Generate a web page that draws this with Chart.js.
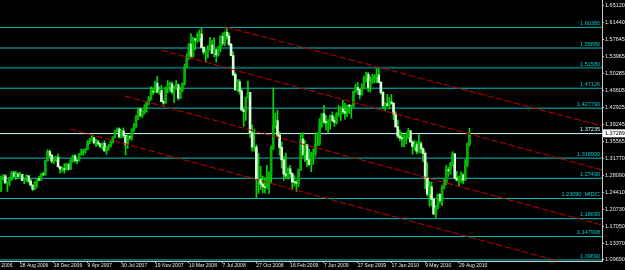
<!DOCTYPE html>
<html>
<head>
<meta charset="utf-8">
<script src="https://cdn.jsdelivr.net/npm/chart.js@4.4.0/dist/chart.umd.min.js"></script>
<style>
html, body { margin: 0; padding: 0; background: #000; }
</style>
</head>
<body>
<canvas id="myChart" width="625" height="270"></canvas>
<script>
// weekly EUR/USD candles, week 0 = end of June 2006
var opens = [1.2500,1.2780,1.2800,1.2650,1.2670,1.2760,1.2860,1.2790,1.2840,1.2790,1.2830,1.2700,1.2700,1.2800,1.2690,1.2600,1.2510,1.2670,1.2740,1.2710,1.2840,1.2830,1.3130,1.3330,1.3250,1.3120,1.3160,1.3200,1.3000,1.2950,1.2960,1.2940,1.3050,1.2950,1.3140,1.3230,1.3140,1.3130,1.3280,1.3290,1.3340,1.3380,1.3540,1.3580,1.3630,1.3520,1.3540,1.3500,1.3450,1.3510,1.3350,1.3430,1.3470,1.3540,1.3640,1.3780,1.3820,1.3650,1.3780,1.3680,1.3480,1.3660,1.3640,1.3810,1.3880,1.4080,1.4260,1.4120,1.4200,1.4300,1.4420,1.4500,1.4640,1.4630,1.4820,1.4630,1.4660,1.4420,1.4390,1.4720,1.4750,1.4800,1.4630,1.4710,1.4780,1.4500,1.4680,1.4820,1.5180,1.5380,1.5670,1.5410,1.5790,1.5760,1.5810,1.5890,1.5600,1.5500,1.5500,1.5560,1.5650,1.5470,1.5550,1.5440,1.5610,1.5840,1.5690,1.5930,1.5850,1.5670,1.5420,1.5010,1.4680,1.4850,1.4650,1.4240,1.4200,1.4510,1.4620,1.3740,1.3430,1.3430,1.2720,1.2720,1.2620,1.2570,1.2550,1.2690,1.2820,1.3400,1.3900,1.4000,1.3690,1.3420,1.3150,1.2840,1.2800,1.2950,1.2850,1.2670,1.2660,1.2640,1.2930,1.3600,1.3270,1.3480,1.3150,1.3050,1.3250,1.3290,1.3490,1.3520,1.3980,1.4150,1.3980,1.3960,1.3980,1.4110,1.4010,1.3970,1.4160,1.4160,1.4260,1.4200,1.4170,1.4340,1.4320,1.4320,1.4640,1.4720,1.4680,1.4570,1.4720,1.4930,1.5010,1.4730,1.4860,1.4900,1.4960,1.5000,1.4840,1.4620,1.4330,1.4370,1.4330,1.4410,1.4380,1.4150,1.3870,1.3670,1.3630,1.3610,1.3630,1.3630,1.3780,1.3540,1.3440,1.3480,1.3340,1.3500,1.3390,1.3290,1.2750,1.2400,1.2560,1.2290,1.1970,1.2100,1.2400,1.2260,1.2550,1.2640,1.2940,1.2910,1.3050,1.3280,1.2750,1.2710,1.2750,1.2820,1.2710,1.3050,1.3490];
var highs = [1.2790,1.2830,1.2830,1.2680,1.2770,1.2900,1.2900,1.2900,1.2870,1.2880,1.2840,1.2750,1.2830,1.2810,1.2740,1.2600,1.2680,1.2750,1.2800,1.2850,1.2880,1.3140,1.3370,1.3370,1.3280,1.3220,1.3230,1.3280,1.3000,1.2990,1.3070,1.3080,1.3070,1.3180,1.3250,1.3270,1.3190,1.3290,1.3390,1.3380,1.3400,1.3570,1.3620,1.3680,1.3650,1.3600,1.3580,1.3510,1.3520,1.3570,1.3450,1.3490,1.3580,1.3660,1.3800,1.3850,1.3850,1.3800,1.3850,1.3690,1.3700,1.3680,1.3830,1.3950,1.4120,1.4280,1.4280,1.4230,1.4350,1.4430,1.4530,1.4750,1.4720,1.4870,1.4970,1.4750,1.4780,1.4460,1.4740,1.4880,1.4840,1.4850,1.4760,1.4880,1.4810,1.4730,1.4830,1.5240,1.5460,1.5690,1.5900,1.5830,1.5800,1.5920,1.5980,1.6020,1.5620,1.5560,1.5640,1.5820,1.5760,1.5810,1.5550,1.5620,1.5860,1.5920,1.5940,1.6040,1.5920,1.5690,1.5510,1.5050,1.4900,1.4900,1.4710,1.4310,1.4520,1.4870,1.4620,1.3910,1.3820,1.3480,1.3290,1.3010,1.2800,1.2760,1.3030,1.2890,1.3450,1.4720,1.4170,1.4240,1.3760,1.3540,1.3230,1.3300,1.2980,1.3030,1.2870,1.2810,1.2710,1.2950,1.3740,1.3740,1.3580,1.3480,1.3380,1.3320,1.3390,1.3740,1.3740,1.4050,1.4160,1.4340,1.4120,1.4030,1.4130,1.4200,1.4090,1.4180,1.4340,1.4310,1.4450,1.4390,1.4340,1.4360,1.4340,1.4650,1.4800,1.4840,1.4700,1.4810,1.4970,1.5060,1.5060,1.4970,1.5020,1.5010,1.5140,1.5140,1.4860,1.4640,1.4400,1.4580,1.4510,1.4580,1.4400,1.4200,1.4020,1.3800,1.3750,1.3700,1.3740,1.3840,1.3790,1.3570,1.3570,1.3550,1.3700,1.3550,1.3420,1.3330,1.3090,1.2680,1.2670,1.2320,1.2160,1.2400,1.2410,1.2590,1.2720,1.3030,1.2990,1.3100,1.3330,1.3280,1.2900,1.2800,1.2890,1.2850,1.3160,1.3520,1.3840];
var lows = [1.2460,1.2700,1.2630,1.2460,1.2580,1.2700,1.2770,1.2720,1.2740,1.2780,1.2690,1.2630,1.2680,1.2650,1.2580,1.2480,1.2500,1.2550,1.2690,1.2700,1.2800,1.2810,1.3120,1.3190,1.3080,1.3070,1.3120,1.2990,1.2860,1.2890,1.2860,1.2920,1.2930,1.2940,1.3100,1.3100,1.3060,1.3120,1.3250,1.3250,1.3300,1.3370,1.3500,1.3570,1.3500,1.3440,1.3460,1.3410,1.3380,1.3330,1.3270,1.3360,1.3430,1.3520,1.3630,1.3760,1.3630,1.3630,1.3630,1.3260,1.3400,1.3590,1.3580,1.3770,1.3860,1.4030,1.4090,1.4070,1.4150,1.4190,1.4350,1.4450,1.4570,1.4620,1.4610,1.4580,1.4420,1.4350,1.4380,1.4610,1.4650,1.4590,1.4400,1.4680,1.4450,1.4480,1.4640,1.4780,1.5160,1.5340,1.5370,1.5390,1.5550,1.5710,1.5730,1.5600,1.5450,1.5290,1.5380,1.5540,1.5480,1.5400,1.5280,1.5410,1.5510,1.5640,1.5640,1.5780,1.5640,1.5420,1.4980,1.4660,1.4650,1.4580,1.4220,1.3880,1.4010,1.4510,1.3640,1.3340,1.3340,1.2330,1.2420,1.2500,1.2430,1.2430,1.2520,1.2420,1.2660,1.3370,1.3840,1.3650,1.3250,1.2970,1.2700,1.2760,1.2730,1.2770,1.2510,1.2580,1.2460,1.2560,1.2920,1.3230,1.3110,1.3000,1.3030,1.2890,1.3050,1.3230,1.3460,1.3470,1.3860,1.3930,1.3800,1.3750,1.3820,1.3980,1.3880,1.3930,1.4100,1.4010,1.4150,1.4040,1.4100,1.4160,1.4060,1.4280,1.4620,1.4580,1.4480,1.4560,1.4700,1.4850,1.4640,1.4630,1.4820,1.4830,1.4830,1.4830,1.4580,1.4260,1.4220,1.4320,1.4260,1.4360,1.4030,1.3860,1.3630,1.3570,1.3440,1.3440,1.3500,1.3610,1.3530,1.3270,1.3360,1.3280,1.3300,1.3300,1.3110,1.2520,1.2360,1.2140,1.2150,1.1960,1.1880,1.2080,1.2200,1.2150,1.2510,1.2610,1.2790,1.2840,1.3020,1.2730,1.2690,1.2590,1.2660,1.2630,1.2700,1.3000,1.3450];
var closes = [1.2780,1.2800,1.2650,1.2670,1.2760,1.2860,1.2790,1.2840,1.2790,1.2830,1.2700,1.2700,1.2800,1.2690,1.2600,1.2510,1.2670,1.2740,1.2710,1.2840,1.2830,1.3130,1.3330,1.3250,1.3120,1.3160,1.3200,1.3000,1.2950,1.2960,1.2940,1.3050,1.2950,1.3140,1.3230,1.3140,1.3130,1.3280,1.3290,1.3340,1.3380,1.3540,1.3580,1.3630,1.3520,1.3540,1.3500,1.3450,1.3510,1.3350,1.3430,1.3470,1.3540,1.3640,1.3780,1.3820,1.3650,1.3780,1.3680,1.3480,1.3660,1.3640,1.3810,1.3880,1.4080,1.4260,1.4120,1.4200,1.4300,1.4420,1.4500,1.4640,1.4630,1.4820,1.4630,1.4660,1.4420,1.4390,1.4720,1.4750,1.4800,1.4630,1.4710,1.4780,1.4500,1.4680,1.4820,1.5180,1.5380,1.5670,1.5410,1.5790,1.5760,1.5810,1.5890,1.5600,1.5500,1.5500,1.5560,1.5650,1.5470,1.5550,1.5440,1.5610,1.5840,1.5690,1.5930,1.5850,1.5670,1.5420,1.5010,1.4680,1.4850,1.4650,1.4240,1.4200,1.4510,1.4620,1.3740,1.3430,1.3430,1.2720,1.2720,1.2620,1.2570,1.2550,1.2690,1.2820,1.3400,1.3900,1.4000,1.3690,1.3420,1.3150,1.2840,1.2800,1.2950,1.2850,1.2670,1.2660,1.2640,1.2930,1.3600,1.3270,1.3480,1.3150,1.3050,1.3250,1.3290,1.3490,1.3520,1.3980,1.4150,1.3980,1.3960,1.3980,1.4110,1.4010,1.3970,1.4160,1.4160,1.4260,1.4200,1.4170,1.4340,1.4320,1.4320,1.4640,1.4720,1.4680,1.4570,1.4720,1.4930,1.5010,1.4730,1.4860,1.4900,1.4960,1.5000,1.4840,1.4620,1.4330,1.4370,1.4330,1.4410,1.4380,1.4150,1.3870,1.3670,1.3630,1.3610,1.3630,1.3630,1.3780,1.3540,1.3440,1.3480,1.3340,1.3500,1.3390,1.3290,1.2750,1.2400,1.2560,1.2290,1.1970,1.2100,1.2400,1.2260,1.2550,1.2640,1.2940,1.2910,1.3050,1.3280,1.2750,1.2710,1.2750,1.2820,1.2710,1.3050,1.3490,1.37289];

// horizontal levels and their labels
var levelValues = [1.60380, 1.55880, 1.51580, 1.47126, 1.427790, 1.37235, 1.318900, 1.27490, 1.23090, 1.18690, 1.147908, 1.09690];
var levelText = ['1.60380', '1.55880', '1.51580', '1.47126', '1.427790', '1.37235', '1.318900', '1.27490', '1.23090  MID/C', '1.18690', '1.147908', '1.09690'];
var levelColors = ['#00b4b4', '#006464', '#006464', '#00c0c0', '#00c0c0', '#c8ffff', '#00c0c0', '#00c0c0', '#00c0c0', '#00c0c0', '#00c0c0', '#00c0c0'];

// channel lines: [startWeek, startPrice, endWeek, endPrice]
var channels = [
    [106.6, 1.6047, 284.8, 1.3890],
    [75.8, 1.5546, 284.8, 1.2930],
    [58.7, 1.4543, 284.8, 1.1730],
    [32.7, 1.3824, 284.8, 1.0685]
];

var xTickIdx = [-7, 9, 25, 41, 57, 73, 89, 105, 121, 137, 153, 169, 185, 201, 217];
var xTickText = ['8 May 2006', '28 Aug 2006', '18 Dec 2006', '9 Apr 2007', '30 Jul 2007', '19 Nov 2007', '10 Mar 2008', '7 Jul 2008', '27 Oct 2008', '16 Feb 2009', '7 Jun 2009', '27 Sep 2009', '17 Jan 2010', '9 May 2010', '29 Aug 2010'];

var yTickValues = [1.65120, 1.61440, 1.57645, 1.53965, 1.50285, 1.46605, 1.42925, 1.39245, 1.35565, 1.31770, 1.28090, 1.24410, 1.20730, 1.17050, 1.13370, 1.09690];

var xMin = -0.5, xMax = 284.8;
var yMin = 1.0946, yMax = 1.6636;

var wicks = [], bullBodies = [], bearBodies = [];
for (var i = 0; i < closes.length; i++) {
    var o = opens[i], c = closes[i];
    wicks.push({ x: i, y: [Math.min(lows[i], o, c), Math.max(highs[i], o, c)] });
    var body = [Math.min(o, c), Math.max(o, c) + 0.0004];
    if (c >= o) bullBodies.push({ x: i, y: body });
    else bearBodies.push({ x: i, y: body });
}

var datasets = [];
levelValues.forEach(function (v, k) {
    datasets.push({
        type: 'line', data: [{ x: xMin, y: v }, { x: xMax, y: v }],
        borderColor: levelColors[k], borderWidth: (k == 1 || k == 2) ? 2 : 1,
        pointRadius: 0, order: 10
    });
});
datasets.push({ type: 'bar', data: wicks, backgroundColor: '#00d800', barThickness: 1, grouped: false, order: 6 });
datasets.push({ type: 'bar', data: bullBodies, backgroundColor: '#00b400', barThickness: 2, grouped: false, order: 5 });
datasets.push({ type: 'bar', data: bearBodies, backgroundColor: '#d8ffd8', barThickness: 2, grouped: false, order: 5 });
channels.forEach(function (c) {
    datasets.push({
        type: 'line', data: [{ x: c[0], y: c[1] }, { x: c[2], y: c[3] }],
        borderColor: '#c00000', borderWidth: 1, borderDash: [7, 2], pointRadius: 0, order: 1
    });
});

var labelsPlugin = {
    id: 'levelLabels',
    afterDraw: function (chart) {
        var ctx = chart.ctx, ys = chart.scales.y, area = chart.chartArea;
        ctx.save();
        ctx.font = '5.5px "Liberation Sans"';
        ctx.textAlign = 'right';
        ctx.textBaseline = 'bottom';
        levelValues.forEach(function (v, k) {
            ctx.fillStyle = k == 5 ? '#c8ffff' : '#00d0d0';
            ctx.fillText(levelText[k], area.right - 2, ys.getPixelForValue(v) - 1);
        });
        // current price box
        var last = closes[closes.length - 1];
        var py = ys.getPixelForValue(last);
        ctx.fillStyle = '#ffffff';
        ctx.fillRect(area.right + 1, py - 4, 23, 8);
        ctx.fillStyle = '#000000';
        ctx.textAlign = 'left';
        ctx.textBaseline = 'middle';
        ctx.fillText(last.toFixed(5), area.right + 3, py + 0.5);
        ctx.restore();
    }
};

const ctx = document.getElementById('myChart');
new Chart(ctx, {
    type: 'bar',
    data: { datasets: datasets },
    plugins: [labelsPlugin],
    options: {
        responsive: false,
        animation: false,
        layout: { padding: 0 },
        plugins: { legend: { display: false }, tooltip: { enabled: false } },
        scales: {
            x: {
                type: 'linear', min: xMin, max: xMax, offset: false,
                afterBuildTicks: function (s) { s.ticks = xTickIdx.map(function (v) { return { value: v }; }); },
                afterFit: function (s) { s.height = 9; s.paddingLeft = 0; s.paddingRight = 0; },
                grid: { drawOnChartArea: false, drawTicks: true, tickLength: 2, color: '#c8c8c8', offset: false },
                border: { display: true, color: '#c8c8c8' },
                ticks: {
                    autoSkip: false, maxRotation: 0, align: 'start', padding: 0,
                    color: '#e8e8e8', font: { family: 'Liberation Sans', size: 5 },
                    callback: function (v) { var k = xTickIdx.indexOf(v); return k < 0 ? '' : xTickText[k]; }
                }
            },
            y: {
                type: 'linear', position: 'right', min: yMin, max: yMax,
                afterBuildTicks: function (s) { s.ticks = yTickValues.map(function (v) { return { value: v }; }); },
                afterFit: function (s) { s.width = 23; s.paddingTop = 0; s.paddingBottom = 0; },
                grid: { drawOnChartArea: false, drawTicks: true, tickLength: 2, color: '#c8c8c8' },
                border: { display: true, color: '#c8c8c8' },
                ticks: {
                    autoSkip: false, padding: 1,
                    color: '#e8e8e8', font: { family: 'Liberation Sans', size: 5.5 },
                    callback: function (v) { return v.toFixed(5); }
                }
            }
        }
    }
});
</script>
</body>
</html>
